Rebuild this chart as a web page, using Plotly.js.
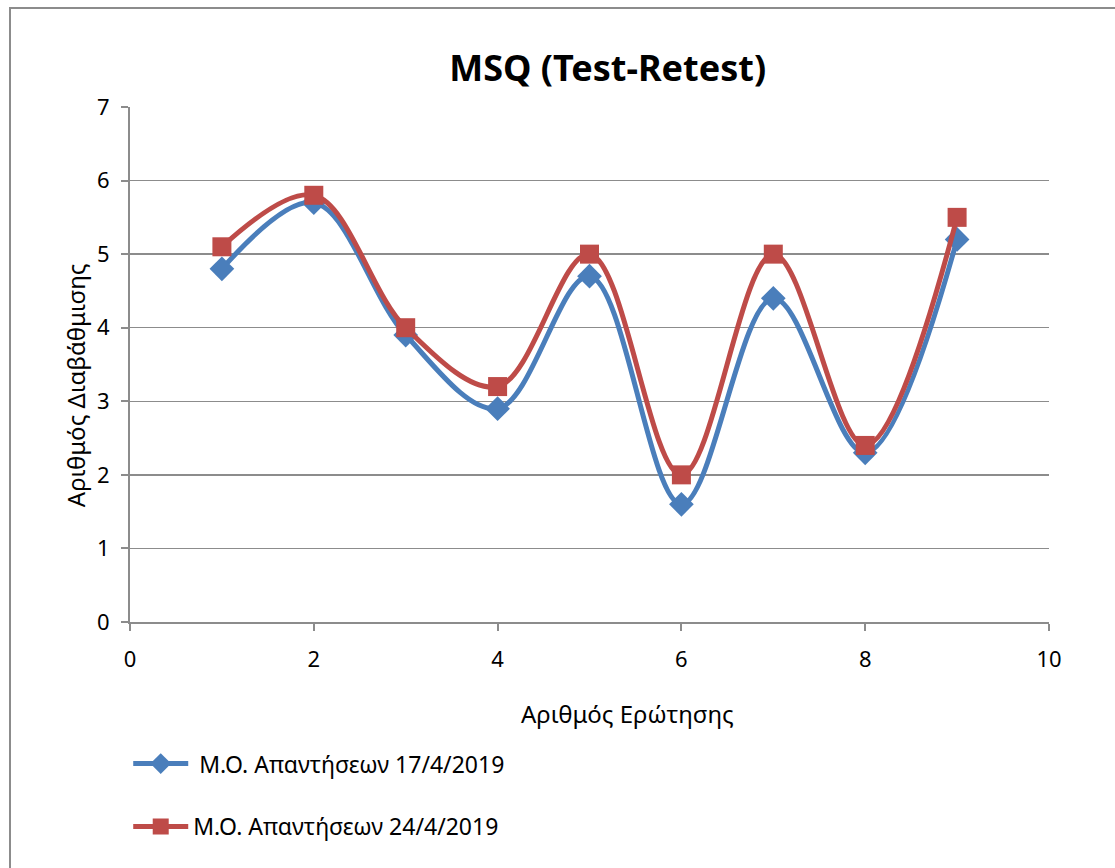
<!DOCTYPE html>
<html>
<head>
<meta charset="utf-8">
<script src="https://cdn.plot.ly/plotly-3.0.1.min.js"></script>
<style>
html,body{margin:0;padding:0;background:#fff;}
#frame{position:absolute;left:9px;top:7px;width:1110px;height:870px;border-left:2px solid #8c8c8c;border-top:2px solid #8c8c8c;box-sizing:border-box;}
#chart{position:absolute;left:0;top:0;width:1115px;height:868px;}
</style>
</head>
<body>
<div id="frame"></div>
<div id="chart"></div>
<script>
const questions = [1, 2, 3, 4, 5, 6, 7, 8, 9];
const series1Name = "Μ.Ο. Απαντήσεων 17/4/2019";
const series1 = [4.8, 5.7, 3.9, 2.9, 4.7, 1.6, 4.4, 2.3, 5.2];
const series2Name = "Μ.Ο. Απαντήσεων 24/4/2019";
const series2 = [5.1, 5.8, 4.0, 3.2, 5.0, 2.0, 5.0, 2.4, 5.5];
const xTicks = [0, 2, 4, 6, 8, 10];
const yTicks = [0, 1, 2, 3, 4, 5, 6, 7];
const xTitle = "Αριθμός Ερώτησης";
const yTitle = "Αριθμός Διαβάθμισης";

const FONT = "Noto Sans, Open Sans, DejaVu Sans, sans-serif";

const traces = [
  {
    x: questions, y: series1, name: " " + series1Name, type: "scatter", mode: "lines+markers",
    line: {color: "#4a7ebb", width: 5, shape: "spline", smoothing: 1},
    marker: {symbol: "diamond", size: 19, color: "#4a7ebb"},
    legendgroup: "a"
  },
  {
    x: questions, y: series2, name: series2Name, type: "scatter", mode: "lines+markers",
    line: {color: "#be4b48", width: 5, shape: "spline", smoothing: 1},
    marker: {symbol: "square", size: 19, color: "#be4b48"},
    legendgroup: "b"
  }
];

const layout = {
  width: 1115, height: 868,
  paper_bgcolor: "rgba(0,0,0,0)", plot_bgcolor: "rgba(0,0,0,0)",
  margin: {l: 130, r: 66, t: 107, b: 246, autoexpand: false},
  font: {family: FONT, color: "#000", size: 22},
  title: {text: "<b>MSQ (Test-Retest)</b>", x: 0.545, xref: "container", xanchor: "center",
          y: 0.921, yref: "container", yanchor: "middle",
          font: {family: FONT, size: 36, color: "#000"}},
  xaxis: {
    range: [0, 10], tickvals: xTicks, ticktext: xTicks.map(String),
    showgrid: false, zeroline: false, showline: true, linecolor: "#8c8c8c", linewidth: 2,
    ticks: "outside", ticklen: 7, tickcolor: "#8c8c8c", tickwidth: 2,
    ticklabelstandoff: 10,
    tickfont: {family: FONT, size: 22, color: "#000"},
    fixedrange: true
  },
  yaxis: {
    range: [0, 7], tickvals: yTicks, ticktext: yTicks.map(String),
    showgrid: true, gridcolor: "#8c8c8c", gridwidth: 1.5,
    zeroline: false, showline: true, linecolor: "#8c8c8c", linewidth: 2,
    ticks: "outside", ticklen: 7, tickcolor: "#8c8c8c", tickwidth: 2,
    ticklabelstandoff: 7,
    tickfont: {family: FONT, size: 22, color: "#000"},
    fixedrange: true
  },
  annotations: [
    {text: xTitle, xref: "paper", yref: "paper", x: 0.541, y: -0.177,
     xanchor: "center", yanchor: "middle", showarrow: false,
     font: {family: FONT, size: 24, color: "#000"}},
    {text: yTitle, xref: "paper", yref: "paper", x: -0.0598, y: 0.46,
     xanchor: "center", yanchor: "middle", showarrow: false, textangle: -90,
     font: {family: FONT, size: 24, color: "#000"}}
  ],
  showlegend: true,
  legend: {
    orientation: "v", x: 0.115, xanchor: "left", xref: "container",
    y: 0.084, yanchor: "middle", yref: "container",
    traceorder: "grouped", tracegroupgap: 30,
    font: {family: FONT, size: 23, color: "#000"},
    itemwidth: 55, bgcolor: "rgba(0,0,0,0)"
  }
};

Plotly.newPlot("chart", traces, layout, {displayModeBar: false, staticPlot: true});
</script>
</body>
</html>
